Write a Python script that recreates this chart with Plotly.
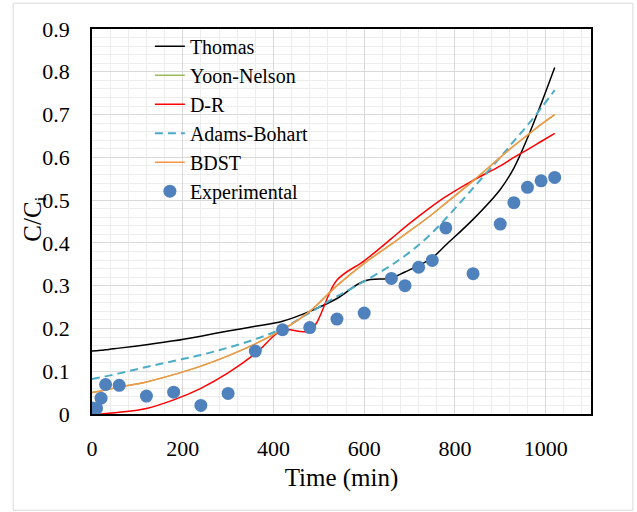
import plotly.graph_objects as go

# ---- data ----
time_model = [0, 10, 20, 30, 60, 120, 180, 240, 300, 360, 420, 480, 540, 600,
              660, 690, 720, 750, 780, 840, 900, 930, 960, 990, 1020]
thomas = [0.147, 0.148, 0.149, 0.150, 0.154, 0.162, 0.171, 0.182, 0.194, 0.205,
          0.217, 0.240, 0.270, 0.311, 0.318, 0.332, 0.347, 0.365, 0.395, 0.455,
          0.525, 0.575, 0.645, 0.725, 0.810]
bdst = [0.050, 0.052, 0.054, 0.056, 0.063, 0.075, 0.092, 0.112, 0.136, 0.164,
        0.197, 0.240, 0.300, 0.352, 0.397, 0.420, 0.443, 0.467, 0.493, 0.545,
        0.600, 0.627, 0.652, 0.677, 0.700]
yoon_nelson = [0.050, 0.052, 0.054, 0.056, 0.063, 0.075, 0.092, 0.112, 0.136, 0.164,
               0.197, 0.240, 0.300, 0.352, 0.397, 0.420, 0.443, 0.467, 0.493, 0.545,
               0.600, 0.627, 0.652, 0.677, 0.700]
dr = [0.000, 0.000, 0.000, 0.001, 0.004, 0.013, 0.033, 0.060, 0.096, 0.141,
      0.196, 0.195, 0.313, 0.358, 0.410, 0.437, 0.462, 0.486, 0.508, 0.546,
      0.580, 0.600, 0.618, 0.637, 0.656]
adams_bohart = [0.082, 0.084, 0.086, 0.088, 0.095, 0.110, 0.124, 0.138, 0.155, 0.175,
                0.200, 0.237, 0.275, 0.310, 0.348, 0.370, 0.395, 0.424, 0.457, 0.528,
                0.600, 0.638, 0.675, 0.715, 0.757]

time_exp = [0, 10, 20, 30, 60, 120, 180, 240, 300, 360, 420, 480, 540, 600,
            660, 690, 720, 750, 780, 840, 900, 930, 960, 990, 1020]
experimental = [0.014, 0.013, 0.037, 0.069, 0.067, 0.042, 0.051, 0.020, 0.048, 0.147,
                0.197, 0.202, 0.222, 0.236, 0.317, 0.300, 0.343, 0.359, 0.435, 0.328,
                0.444, 0.494, 0.530, 0.545, 0.553]

x_ticks = [0, 200, 400, 600, 800, 1000]
y_ticks = [0, 0.1, 0.2, 0.3, 0.4, 0.5, 0.6, 0.7, 0.8, 0.9]
y_tick_text = ["0", "0.1", "0.2", "0.3", "0.4", "0.5", "0.6", "0.7", "0.8", "0.9"]

FONT = "Liberation Serif"

fig = go.Figure()
fig.add_trace(go.Scatter(x=time_model, y=thomas, mode="lines", name="Thomas",
                         line=dict(color="#000000", width=1.5, shape="spline")))
fig.add_trace(go.Scatter(x=time_model, y=yoon_nelson, mode="lines", name="Yoon-Nelson",
                         line=dict(color="#9BBB59", width=1.5, shape="spline")))
fig.add_trace(go.Scatter(x=time_model, y=dr, mode="lines", name="D-R",
                         line=dict(color="#FF0000", width=1.5, shape="spline")))
fig.add_trace(go.Scatter(x=time_model, y=adams_bohart, mode="lines", name="Adams-Bohart",
                         line=dict(color="#4BACC6", width=2, dash="8px,5px", shape="spline")))
fig.add_trace(go.Scatter(x=time_model, y=bdst, mode="lines", name="BDST",
                         line=dict(color="#F79646", width=1.5, shape="spline")))
fig.add_trace(go.Scatter(x=time_exp, y=experimental, mode="markers", name="Experimental",
                         marker=dict(color="#4F81BD", size=13)))

fig.update_layout(
    width=637, height=512,
    margin=dict(l=92, r=46, t=29, b=98),
    paper_bgcolor="white", plot_bgcolor="white",
    font=dict(family=FONT, size=22, color="black"),
    showlegend=True,
    legend=dict(x=0.116, y=1.006, xanchor="left", yanchor="top",
                bgcolor="rgba(0,0,0,0)",
                font=dict(family=FONT, size=20, color="black"), tracegroupgap=0),
    xaxis=dict(range=[0, 1100], tickvals=x_ticks, showgrid=True,
               gridcolor="#D9D9D9", gridwidth=1.2,
               minor=dict(dtick=40, showgrid=True, gridcolor="#EDEDED", gridwidth=1),
               showline=True, linecolor="black", linewidth=1.5, mirror=True,
               ticks="outside", ticklen=14, tickcolor="rgba(0,0,0,0)",
               zeroline=False, tickfont=dict(family=FONT, size=22, color="black"),
               title=dict(text="Time (min)", font=dict(family=FONT, size=25, color="black"),
                          standoff=8)),
    yaxis=dict(range=[0, 0.9], tickvals=y_ticks, ticktext=y_tick_text, showgrid=True,
               gridcolor="#D9D9D9", gridwidth=1.2,
               minor=dict(dtick=0.02, showgrid=True, gridcolor="#EDEDED", gridwidth=1),
               showline=True, linecolor="black", linewidth=1.5, mirror=True,
               ticks="outside", ticklen=16, tickcolor="rgba(0,0,0,0)",
               zeroline=False, tickfont=dict(family=FONT, size=22, color="black")),
    annotations=[dict(text="C/C<sub>i</sub>", xref="paper", yref="paper",
                      x=-0.116, y=0.505, textangle=-90, showarrow=False,
                      font=dict(family=FONT, size=25, color="black"),
                      xanchor="center", yanchor="middle")],
    shapes=[dict(type="rect", xref="paper", yref="paper",
                 x0=-0.158, x1=1.084, y0=-0.25, y1=1.067,
                 line=dict(color="#D9D9D9", width=1), layer="below")],
)

fig.write_html("out.html")
